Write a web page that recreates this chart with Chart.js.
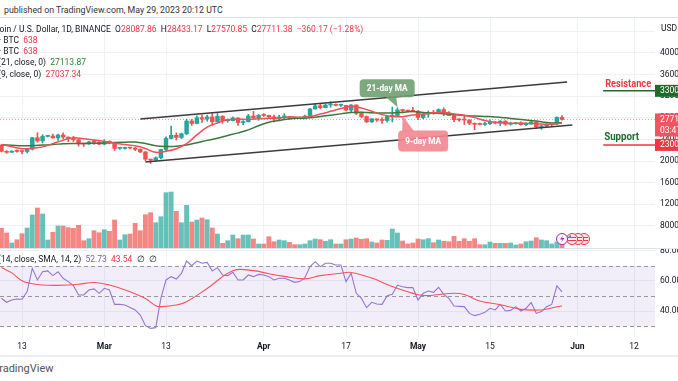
<!DOCTYPE html>
<html><head><meta charset="utf-8">
<script src="https://cdn.jsdelivr.net/npm/chart.js"></script>
<style>
html,body{margin:0;padding:0;background:#fff;}
#wrap{position:relative;width:678px;height:381px;overflow:hidden;background:#fff;font-family:Roboto,'Open Sans',sans-serif;color:#131722;}
.t{position:absolute;white-space:nowrap;font-size:8.5px;line-height:10px;z-index:5;}
.r{color:#f23645}.g{color:#2e7d32}.p{color:#7e57c2}
canvas{position:absolute;left:0;}
#c1{top:18px;}#c2{top:249px;}
.hl{position:absolute;left:0;width:678px;height:1px;background:#e0e3eb;z-index:4;}
</style></head><body>
<div id="wrap">
<canvas id="c1" width="678" height="230"></canvas>
<canvas id="c2" width="678" height="107"></canvas>
<div class="t" style="left:4px;top:5px;font-size:8.8px;color:#333">published on TradingView.com, May 29, 2023 20:12 UTC</div>
<div class="hl" style="top:17px"></div>
<div class="t" style="left:-15px;top:24px">Bitcoin / U.S. Dollar, 1D, BINANCE&nbsp;&nbsp;O<span class="r">28087.86</span>&nbsp;&nbsp;H<span class="r">28433.17</span>&nbsp;&nbsp;L<span class="r">27570.85</span>&nbsp;&nbsp;C<span class="r">27711.38</span>&nbsp;&nbsp;<span class="r">−360.17 (−1.28%)</span></div>
<div class="t" style="left:-1px;top:35px">· BTC&nbsp;&nbsp;<span class="r">638</span></div>
<div class="t" style="left:-1px;top:46px">· BTC&nbsp;&nbsp;<span class="r">638</span></div>
<div class="t" style="left:-2px;top:57px">(21, close, 0)&nbsp;&nbsp;<span class="g">27113.87</span></div>
<div class="t" style="left:-2px;top:69px">(9, close, 0)&nbsp;&nbsp;<span class="r">27037.34</span></div>
<div class="t" style="left:661px;top:23px">USD</div>
<div class="hl" style="top:248px"></div>
<div class="t" style="left:-2px;top:254px">(14, close, SMA, 14, 2)&nbsp;&nbsp;<span class="p">52.73</span>&nbsp;&nbsp;<span class="r">43.54</span>&nbsp;&nbsp;∅&nbsp;&nbsp;∅</div>
<div class="hl" style="top:355px;height:2px;background:#eceef2"></div>
<div class="t" style="left:-7px;top:362px;font-size:11px;line-height:13px;color:#555">TradingView</div>
</div>
<script>
// ---------- DATA ----------
const dates = ['2023-02-09','2023-02-10','2023-02-11','2023-02-12','2023-02-13','2023-02-14','2023-02-15','2023-02-16','2023-02-17','2023-02-18',
'2023-02-19','2023-02-20','2023-02-21','2023-02-22','2023-02-23','2023-02-24','2023-02-25','2023-02-26','2023-02-27','2023-02-28',
'2023-03-01','2023-03-02','2023-03-03','2023-03-04','2023-03-05','2023-03-06','2023-03-07','2023-03-08','2023-03-09','2023-03-10',
'2023-03-11','2023-03-12','2023-03-13','2023-03-14','2023-03-15','2023-03-16','2023-03-17','2023-03-18','2023-03-19','2023-03-20',
'2023-03-21','2023-03-22','2023-03-23','2023-03-24','2023-03-25','2023-03-26','2023-03-27','2023-03-28','2023-03-29','2023-03-30',
'2023-03-31','2023-04-01','2023-04-02','2023-04-03','2023-04-04','2023-04-05','2023-04-06','2023-04-07','2023-04-08','2023-04-09',
'2023-04-10','2023-04-11','2023-04-12','2023-04-13','2023-04-14','2023-04-15','2023-04-16','2023-04-17','2023-04-18','2023-04-19',
'2023-04-20','2023-04-21','2023-04-22','2023-04-23','2023-04-24','2023-04-25','2023-04-26','2023-04-27','2023-04-28','2023-04-29',
'2023-04-30','2023-05-01','2023-05-02','2023-05-03','2023-05-04','2023-05-05','2023-05-06','2023-05-07','2023-05-08','2023-05-09',
'2023-05-10','2023-05-11','2023-05-12','2023-05-13','2023-05-14','2023-05-15','2023-05-16','2023-05-17','2023-05-18','2023-05-19',
'2023-05-20','2023-05-21','2023-05-22','2023-05-23','2023-05-24','2023-05-25','2023-05-26','2023-05-27','2023-05-28','2023-05-29'];
const open = [22960,21800,21630,21860,21790,21780,22200,24330,23740,24570,
24630,24280,24840,24450,24190,23950,23190,23160,23560,23490,
23140,23630,23470,22350,22350,22430,22410,22200,21700,20360,
20190,20630,22140,24190,24770,24380,25050,27420,26960,28040,
27770,28170,27300,28300,27480,27490,27990,27140,27270,28350,
28030,28470,28450,28200,27790,28170,28170,28030,27900,27950,
28330,29650,30230,29890,30390,30490,30320,30320,29440,30390,
28820,28240,27260,27820,27590,27510,28300,28420,29480,29340,
29250,29230,28070,28680,29030,28850,29540,28900,28430,27660,
27620,27600,26990,26800,26780,26930,27170,27030,27400,26830,
26890,27100,26750,26850,27220,26330,26480,26720,26870,28087.86];
const high = [23000,21950,21900,22100,21900,22300,24380,25250,24900,24700,
25000,25000,25250,24480,24600,24130,23230,23680,23880,23600,
24000,23780,23480,22410,22600,22550,22530,22270,21800,20370,
20800,22200,24500,26500,25240,25200,27760,27720,28400,28500,
28500,28800,28800,28400,27800,28200,28000,27500,28650,29200,
28650,28800,28530,28500,28450,28770,28200,28100,28180,28500,
29770,30550,30500,30600,31000,30600,30550,30330,30480,30420,
29100,28370,27880,27820,28000,28400,30000,29880,29600,29450,
29950,29330,28880,29270,29380,29680,29850,29150,28650,27850,
28330,27660,27070,27040,27200,27650,27300,27500,27480,27200,
27160,27270,27060,27500,27220,26630,26940,26940,28200,28433.17];
const low = [21700,21450,21600,21650,21350,21530,22050,23500,23350,24450,
24250,23850,24150,23600,23600,22770,22720,23080,23100,23030,
23020,23200,21970,22160,22200,22260,21930,21580,20050,19550,
19950,20400,21900,24100,23900,24150,24900,26600,26900,27150,
27400,26600,27200,27000,27200,27450,26600,26700,27250,27700,
27550,28250,27900,27250,27650,27800,27700,27770,27870,27800,
28170,29600,29650,29850,29960,30200,30140,29270,29100,28600,
28000,27130,27130,27340,26960,27200,27250,28400,28880,29150,
29100,27680,27870,28120,28670,28800,28380,28400,27280,27350,
26770,26750,25810,26700,26600,26750,26860,26550,26630,26640,
26860,26650,26560,26830,26080,25870,26350,26560,26760,27570.85];
const close = [21800,21630,21860,21790,21780,22200,24330,23740,24570,24630,
24280,24840,24450,24190,23950,23190,23160,23560,23490,23140,
23630,23470,22350,22350,22430,22410,22200,21700,20360,20190,
20630,22140,24190,24770,24380,25050,27420,26960,28040,27770,
28170,27300,28300,27480,27490,27990,27140,27270,28350,28030,
28470,28450,28200,27790,28170,28170,28030,27900,27950,28330,
29650,30230,29890,30390,30490,30320,30320,29440,30390,28820,
28240,27260,27820,27590,27510,28300,28420,29480,29340,29250,
29230,28070,28680,29030,28850,29540,28900,28430,27660,27620,
27600,26990,26800,26780,26930,27170,27030,27400,26830,26890,
27100,26750,26850,27220,26330,26480,26720,26870,28080,27711.38];
const volume = [3150,2400,800,1330,2290,3200,5280,6400,5440,1280,
2510,3520,3520,3250,3150,3630,1170,1490,2770,2450,
2930,2670,4480,1280,2130,2240,3950,2770,5330,5650,
4050,5010,8850,8960,5870,4050,6830,4160,4480,4800,
4530,3200,2240,750,1170,2080,1490,2080,2080,1440,
640,640,1810,1010,1280,1170,910,530,530,640,
1170,1440,1330,1070,1330,640,640,1330,1440,1600,
1390,1490,960,800,1280,1230,3040,2400,1120,640,
800,1440,1330,1490,850,1280,1070,1010,1870,1070,
1490,1070,1490,530,530,960,750,750,750,800,
480,640,1010,1120,1650,1280,1170,640,960,638];
const rsi = [48.5,45.8,47.3,48,47.8,52.9,68.4,60.7,66.2,66.7,
63.6,66.2,61.8,59.6,56.9,50.7,50.7,54,54.7,51.8,
55.1,54,44.4,44.4,44,42.4,40.7,37.3,30.2,28.4,
28.9,48.4,60.7,62.9,61.3,65.1,73.3,70.2,73.3,71.8,
72.4,66.7,68.9,64,63.6,65.8,60.7,60.7,64,62.9,
64.4,64,62.9,60.7,61.8,61.8,60.7,59.1,59.6,62.2,
69.6,72.9,69.6,71.8,71.8,70.7,70.7,59.6,65.1,51.8,
48.4,42.2,45.8,44.7,44.4,50.2,51.1,57.3,56.2,55.6,
55.6,47.3,51.8,53.3,52.4,55.8,51.1,48.4,43.3,43.1,
42.9,38.4,36.9,37.8,39.1,41.8,40.7,44.4,40,40.4,
42.9,40,41.8,45.6,38.4,39.6,42.9,44.4,56.7,52.73];
const ma9 = [['2023-02-09',23074],['2023-02-11',22660],['2023-02-13',22306],['2023-02-15',22399],['2023-02-17',22633],['2023-02-19',23242],
['2023-02-21',23869],['2023-02-23',24331],['2023-02-25',24140],['2023-02-27',23901],['2023-03-01',23640],['2023-03-03',23327],
['2023-03-05',23064],['2023-03-07',22830],['2023-03-09',22322],['2023-03-11',21624],['2023-03-13',21806],['2023-03-15',22284],
['2023-03-17',23237],['2023-03-19',24842],['2023-03-21',26306],['2023-03-23',27043],['2023-03-25',27659],['2023-03-27',27742],
['2023-03-29',27721],['2023-03-31',27836],['2023-04-02',27932],['2023-04-04',27986],['2023-04-06',28184],['2023-04-08',28126],
['2023-04-10',28243],['2023-04-12',28702],['2023-04-14',29207],['2023-04-16',29730],['2023-04-18',30124],['2023-04-20',29811],
['2023-04-22',29233],['2023-04-24',28599],['2023-04-26',28261],['2023-04-28',28218],['2023-04-30',28549],['2023-05-02',28698],
['2023-05-04',28928],['2023-05-06',28988],['2023-05-08',28710],['2023-05-10',28479],['2023-05-12',28043],['2023-05-14',27523],
['2023-05-16',27176],['2023-05-18',27059],['2023-05-20',26992],['2023-05-22',26994],['2023-05-24',26933],['2023-05-26',26797],
['2023-05-28',26933],['2023-05-29',27037]];
const ma21 = [['2023-02-09',23016],['2023-02-11',22922],['2023-02-13',22823],['2023-02-15',22862],['2023-02-17',22968],['2023-02-19',23069],
['2023-02-21',23227],['2023-02-23',23271],['2023-02-25',23251],['2023-02-27',23316],['2023-03-01',23343],['2023-03-03',23457],
['2023-03-05',23511],['2023-03-07',23541],['2023-03-09',23255],['2023-03-11',22856],['2023-03-13',22723],['2023-03-15',22747],
['2023-03-17',23001],['2023-03-19',23395],['2023-03-21',23839],['2023-03-23',24243],['2023-03-25',24732],['2023-03-27',25222],
['2023-03-29',25780],['2023-03-31',26540],['2023-04-02',27201],['2023-04-04',27534],['2023-04-06',27857],['2023-04-08',27927],
['2023-04-10',28030],['2023-04-12',28251],['2023-04-14',28494],['2023-04-16',28740],['2023-04-18',28998],['2023-04-20',29030],
['2023-04-22',28943],['2023-04-24',28900],['2023-04-26',28919],['2023-04-28',29056],['2023-04-30',29161],['2023-05-02',29012],
['2023-05-04',28898],['2023-05-06',28785],['2023-05-08',28610],['2023-05-10',28420],['2023-05-12',28339],['2023-05-14',28258],
['2023-05-16',28181],['2023-05-18',28006],['2023-05-20',27787],['2023-05-22',27611],['2023-05-24',27413],['2023-05-26',27166],
['2023-05-28',27052],['2023-05-29',27114]];
const rsiMa = [['2023-02-09',69],['2023-02-11',65.4],['2023-02-13',60.2],['2023-02-15',58.2],['2023-02-17',57.3],['2023-02-20',57.1],
['2023-02-24',57.8],['2023-02-27',59.0],['2023-03-02',57.3],['2023-03-06',52.9],['2023-03-09',48.3],['2023-03-11',43.5],
['2023-03-12',42.9],['2023-03-15',44],['2023-03-17',46.2],['2023-03-21',55],['2023-03-26',66.9],['2023-03-30',66.9],
['2023-04-02',64.8],['2023-04-05',63.1],['2023-04-09',61.4],['2023-04-12',63.6],['2023-04-16',65.2],['2023-04-18',65.7],
['2023-04-22',62],['2023-04-26',56.3],['2023-05-01',50.8],['2023-05-03',50.3],['2023-05-05',51],['2023-05-08',51.8],
['2023-05-10',51],['2023-05-13',46.7],['2023-05-17',44.2],['2023-05-21',41.1],['2023-05-25',40.7],['2023-05-27',42],['2023-05-29',43.54]];
const channelUpper = [['2023-03-08',27790],['2023-05-30',34636]];
const channelLower = [['2023-03-09',19837],['2023-05-31',26681]];
const resistanceLevel = 33000, supportLevel = 23000;
const levelFrom = '2023-06-06';
const priceTicks = [8000,12000,16000,20000,24000,28000,32000,36000,40000,44000];
const rsiTicks = [40,60,80];
const rsiBands = [70,50,30];
const xTickDates = ['2023-02-13','2023-03-01','2023-03-13','2023-04-01','2023-04-17','2023-05-01','2023-05-15','2023-06-01','2023-06-12'];
const xTickLabels = ['13','Mar','13','Apr','17','May','15','Jun','12'];
const monthLabels = ['Mar','Apr','May','Jun'];
const callouts = [
  {text:'21-day MA', date:'2023-04-25', price:33500, tipDate:'2023-04-27', tipPrice:29950, color:'rgba(112,160,112,0.9)', w:55, h:18},
  {text:'9-day MA', date:'2023-05-02', price:23722, tipDate:'2023-04-28', tipPrice:28346, color:'rgba(242,134,144,0.9)', w:50, h:21}
];

// ---------- HELPERS ----------
const DAY0 = Date.parse('2023-02-01T00:00:00Z');
const dayOf = s => (Date.parse(s + 'T00:00:00Z') - DAY0) / 864e5;
const X_MIN = 7.72, X_MAX = 135.08;
const UP = '#26a69a', DOWN = '#ef5350';
const isUp = i => close[i] >= open[i];
const lastClose = close[close.length - 1];
Chart.defaults.font.family = 'Roboto, "Open Sans", sans-serif';
Chart.defaults.font.size = 8.5;
Chart.defaults.color = '#131722';
const GRID = '#eef1f6';

function xScale(showLabels){
  return {
    type:'linear', min:X_MIN, max:X_MAX, offset:false,
    grid:{color:GRID, drawTicks:false, offset:false},
    border:{display:false},
    afterBuildTicks: s => { s.ticks = xTickDates.map(d => ({value: dayOf(d)})); },
    afterFit: s => { s.height = showLabels ? 19 : 0; s.paddingLeft = 0; s.paddingRight = 0; },
    ticks:{
      display: showLabels, autoSkip:false, maxRotation:0, padding:5, color:'#131722',
      callback: (v, i) => xTickLabels[i],
      font: c => ({size:8.5, weight: (c.tick && monthLabels.includes(c.tick.label)) ? 'bold' : 'normal'})
    }
  };
}
function fitText(ctx, text, x, y, w){
  const m = ctx.measureText(text).width;
  ctx.save(); ctx.translate(x, y); ctx.scale(w / m, 1); ctx.fillText(text, 0, 0); ctx.restore();
}
function rr(ctx, x, y, w, h, r){
  ctx.beginPath(); ctx.moveTo(x + r, y); ctx.lineTo(x + w - r, y); ctx.quadraticCurveTo(x + w, y, x + w, y + r);
  ctx.lineTo(x + w, y + h - r); ctx.quadraticCurveTo(x + w, y + h, x + w - r, y + h);
  ctx.lineTo(x + r, y + h); ctx.quadraticCurveTo(x, y + h, x, y + h - r);
  ctx.lineTo(x, y + r); ctx.quadraticCurveTo(x, y, x + r, y); ctx.closePath();
}

const priceOverlay = {
  id:'priceOverlay',
  afterDraw(chart){
    const {ctx, chartArea:a, scales:{x, y}} = chart;
    ctx.save();
    // callouts
    callouts.forEach((c, k) => {
      const cx = x.getPixelForValue(dayOf(c.date)), cy = y.getPixelForValue(c.price);
      const tx = x.getPixelForValue(dayOf(c.tipDate)), ty = y.getPixelForValue(c.tipPrice);
      ctx.fillStyle = c.color;
      const bx = cx - c.w / 2, by = cy - c.h / 2;
      ctx.beginPath();
      if (ty > cy) { ctx.moveTo(cx - 2, by + c.h - 1); ctx.lineTo(cx + 9, by + c.h - 1); ctx.lineTo(tx, ty); }
      else { ctx.moveTo(bx + 4, by + 1); ctx.lineTo(bx + 16, by + 1); ctx.lineTo(tx, ty); }
      ctx.closePath(); ctx.fill();
      rr(ctx, bx, by, c.w, c.h, 4); ctx.fill();
      ctx.fillStyle = '#fff'; ctx.font = 'bold 9px Roboto'; ctx.textBaseline = 'middle'; ctx.textAlign = 'left';
      fitText(ctx, c.text, cx - (c.w - 14) / 2, cy + 0.5, c.w - 14);
    });
    // level labels
    ctx.font = 'bold 10px Roboto'; ctx.textBaseline = 'middle'; ctx.textAlign = 'left';
    const lx = x.getPixelForValue(dayOf(levelFrom));
    ctx.fillStyle = '#f23645';
    fitText(ctx, 'Resistance', lx + 2, y.getPixelForValue(resistanceLevel) - 6, 46);
    ctx.fillStyle = '#1e6b2e';
    fitText(ctx, 'Support', lx + 1, y.getPixelForValue(supportLevel) - 7, 35);
    // axis boxes
    ctx.font = '8.5px Roboto';
    const box = (val, color, lines, h) => {
      const yc = y.getPixelForValue(val);
      ctx.fillStyle = color; ctx.fillRect(a.right, yc - 6, 678 - a.right, h);
      ctx.fillStyle = '#fff';
      lines.forEach((t, i) => ctx.fillText(t, a.right + 5, yc + i * 11));
    };
    box(resistanceLevel, '#1f6b2c', [String(resistanceLevel)], 12);
    box(lastClose, '#f7525f', [String(Math.floor(lastClose)), '03:47'], 23);
    box(supportLevel, '#f23645', [String(supportLevel)], 12);
    // event icons near last bar
    const ix = x.getPixelForValue(dayOf(dates[dates.length - 1])), iy = 221;
    ctx.lineWidth = 1;
    for (let k = 3; k >= 1; k--) {
      const fx = ix + 4 + k * 6;
      ctx.beginPath(); ctx.arc(fx, iy, 5.5, 0, Math.PI * 2);
      ctx.fillStyle = '#fde8ea'; ctx.fill(); ctx.strokeStyle = '#f23645'; ctx.stroke();
      ctx.beginPath(); ctx.moveTo(fx - 4, iy - 1.5); ctx.lineTo(fx + 4, iy - 1.5); ctx.moveTo(fx - 4, iy + 1.5); ctx.lineTo(fx + 4, iy + 1.5); ctx.stroke();
    }
    ctx.fillStyle = '#4a90e2'; ctx.beginPath(); ctx.arc(ix + 9, iy - 1.5, 2.5, Math.PI, Math.PI * 1.5); ctx.lineTo(ix + 9, iy - 1.5); ctx.fill();
    ctx.beginPath(); ctx.arc(ix, iy, 5.5, 0, Math.PI * 2); ctx.fillStyle = '#fff'; ctx.fill();
    ctx.strokeStyle = '#9c27b0'; ctx.stroke();
    ctx.beginPath(); ctx.moveTo(ix + 1, iy - 3.5); ctx.lineTo(ix - 2, iy + 0.5); ctx.lineTo(ix + 0.5, iy + 0.5); ctx.lineTo(ix - 1, iy + 3.5); ctx.lineTo(ix + 2.5, iy - 1); ctx.lineTo(ix, iy - 1); ctx.closePath();
    ctx.fillStyle = '#9c27b0'; ctx.fill();
    ctx.restore();
  }
};

const pts = arr => arr.map(([d, v]) => ({x: dayOf(d), y: v}));
const dx = dates.map(dayOf);

new Chart(document.getElementById('c1'), {
  type:'bar',
  data:{datasets:[
    {type:'bar', yAxisID:'yv', order:10, grouped:false, barThickness:4.2,
     data: dx.map((d, i) => ({x:d, y:volume[i]})),
     backgroundColor: dx.map((d, i) => isUp(i) ? 'rgba(38,166,154,0.7)' : 'rgba(239,83,80,0.7)')},
    {type:'bar', yAxisID:'y', order:9, grouped:false, barThickness:1,
     data: dx.map((d, i) => ({x:d, y:[low[i], high[i]]})),
     backgroundColor: dx.map((d, i) => isUp(i) ? UP : DOWN)},
    {type:'bar', yAxisID:'y', order:8, grouped:false, barThickness:3.8, minBarLength:1,
     data: dx.map((d, i) => ({x:d, y:[open[i], close[i]]})),
     backgroundColor: dx.map((d, i) => isUp(i) ? UP : DOWN)},
    {type:'line', yAxisID:'y', order:7, data:[{x:X_MIN, y:lastClose},{x:X_MAX, y:lastClose}],
     borderColor:'rgba(242,54,69,0.55)', borderWidth:1, borderDash:[1,2], pointRadius:0},
    {type:'line', yAxisID:'y', order:5, data:pts(ma21), borderColor:'#3a7a3a', borderWidth:1.5, pointRadius:0, tension:0.4},
    {type:'line', yAxisID:'y', order:4, data:pts(ma9), borderColor:'#f0505c', borderWidth:1.5, pointRadius:0, tension:0.4},
    {type:'line', yAxisID:'y', order:3, data:pts(channelUpper), borderColor:'#3c3c3c', borderWidth:1.6, pointRadius:0},
    {type:'line', yAxisID:'y', order:3, data:pts(channelLower), borderColor:'#3c3c3c', borderWidth:1.6, pointRadius:0},
    {type:'line', yAxisID:'y', order:2, data:[{x:dayOf(levelFrom), y:resistanceLevel},{x:X_MAX, y:resistanceLevel}], borderColor:'#1f6b2c', borderWidth:1.5, pointRadius:0},
    {type:'line', yAxisID:'y', order:2, data:[{x:dayOf(levelFrom), y:supportLevel},{x:X_MAX, y:supportLevel}], borderColor:'#f23645', borderWidth:1.5, pointRadius:0}
  ]},
  options:{
    responsive:false, animation:false, devicePixelRatio:1,
    layout:{padding:0},
    plugins:{legend:{display:false}, tooltip:{enabled:false}},
    scales:{
      x: xScale(false),
      y:{type:'linear', position:'right', min:3929, max:46474,
         grid:{color:GRID, drawTicks:false}, border:{display:false},
         afterBuildTicks: s => { s.ticks = priceTicks.map(v => ({value:v})); },
         afterFit: s => { s.width = 23; s.paddingTop = 0; s.paddingBottom = 0; },
         ticks:{padding:5, color:'#131722', callback: v => v === 44000 ? '' : String(v)}},
      yv:{type:'linear', display:false, min:0, max:36800}
    }
  },
  plugins:[priceOverlay]
});

const rsiOverlay = {
  id:'rsiOverlay',
  beforeDatasetsDraw(chart){
    const {ctx, chartArea:a, scales:{y}} = chart;
    ctx.save();
    const y70 = y.getPixelForValue(rsiBands[0]), y30 = y.getPixelForValue(rsiBands[2]);
    ctx.fillStyle = 'rgba(126,87,194,0.1)';
    ctx.fillRect(a.left, y70, a.right - a.left, y30 - y70);
    ctx.strokeStyle = '#9598a1'; ctx.lineWidth = 1; ctx.setLineDash([4, 3]);
    rsiBands.forEach(v => { const yy = Math.round(y.getPixelForValue(v)) + 0.5; ctx.beginPath(); ctx.moveTo(a.left, yy); ctx.lineTo(a.right, yy); ctx.stroke(); });
    ctx.restore();
  }
};

new Chart(document.getElementById('c2'), {
  type:'line',
  data:{datasets:[
    {data: dx.map((d, i) => ({x:d, y:rsi[i]})), borderColor:'#9575cd', borderWidth:1.1, pointRadius:0, tension:0, order:2},
    {data: pts(rsiMa), borderColor:'#f7525f', borderWidth:1.1, pointRadius:0, tension:0.4, order:1}
  ]},
  options:{
    responsive:false, animation:false, devicePixelRatio:1,
    layout:{padding:0},
    plugins:{legend:{display:false}, tooltip:{enabled:false}},
    scales:{
      x: xScale(true),
      y:{type:'linear', position:'right', min:22.67, max:81.33,
         grid:{color:GRID, drawTicks:false}, border:{display:false},
         afterBuildTicks: s => { s.ticks = rsiTicks.map(v => ({value:v})); },
         afterFit: s => { s.width = 23; s.paddingTop = 0; s.paddingBottom = 0; },
         ticks:{padding:5, color:'#131722', callback: v => v.toFixed(2)}}
    }
  },
  plugins:[rsiOverlay]
});
</script>
</body></html>
